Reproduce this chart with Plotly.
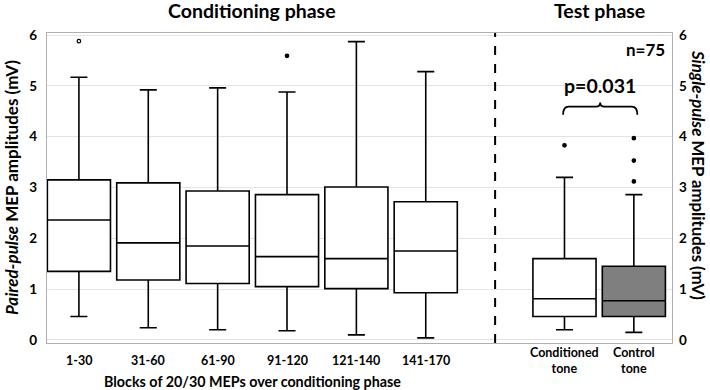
import plotly.graph_objects as go

# ---- data ----
categories = ["1-30", "31-60", "61-90", "91-120", "121-140", "141-170",
              "Conditioned<br>tone", "Control<br>tone"]
positions = [0, 1, 2, 3, 4, 5, 7, 8]
lower = [0.46, 0.24, 0.20, 0.18, 0.10, 0.04, 0.20, 0.15]
q1 = [1.35, 1.18, 1.11, 1.05, 1.01, 0.93, 0.46, 0.46]
median = [2.36, 1.91, 1.85, 1.64, 1.60, 1.75, 0.81, 0.77]
q3 = [3.15, 3.09, 2.93, 2.86, 3.01, 2.72, 1.60, 1.45]
upper = [5.17, 4.92, 4.96, 4.88, 5.87, 5.28, 3.20, 2.86]
fills = ["white"] * 7 + ["#7f7f7f"]

outlier_x = [0, 3, 7, 8, 8, 8]
outlier_y = [5.88, 5.59, 3.83, 3.97, 3.53, 3.12]
outlier_sym = ["circle-open", "circle", "circle", "circle", "circle", "circle"]

p_value_text = "p=0.031"
n_text = "n=75"

FONT = "Lato"

fig = go.Figure()
for i, pos in enumerate(positions):
    fig.add_trace(go.Box(
        x=[pos], q1=[q1[i]], median=[median[i]], q3=[q3[i]],
        lowerfence=[lower[i]], upperfence=[upper[i]],
        width=0.91, whiskerwidth=0.27,
        fillcolor=fills[i], line=dict(color="black", width=1.6),
        boxpoints=False, showlegend=False, hoverinfo="skip"))

fig.add_trace(go.Scatter(
    x=outlier_x, y=outlier_y, mode="markers",
    marker=dict(color="black", size=3.5, symbol=outlier_sym, line=dict(width=1.2, color="black")),
    showlegend=False, hoverinfo="skip"))

# separator between phases
fig.add_shape(type="line", x0=6, x1=6, y0=0, y1=1, xref="x", yref="paper",
              line=dict(color="black", width=2, dash="dash"))

# brace over test boxes
bx0, bx1 = 6.98, 8.05
by0, by1, bytip = 4.43, 4.59, 4.67
bm = (bx0 + bx1) / 2
path = (f"M {bx0},{by0} Q {bx0},{by1} {bx0+0.08},{by1} "
        f"L {bm-0.06},{by1} Q {bm},{by1} {bm},{bytip} "
        f"Q {bm},{by1} {bm+0.06},{by1} "
        f"L {bx1-0.08},{by1} Q {bx1},{by1} {bx1},{by0}")
fig.add_shape(type="path", path=path, xref="x", yref="y",
              line=dict(color="black", width=1.8))

ann = []
ann.append(dict(text=p_value_text, x=bm, y=5.0, xref="x", yref="y", showarrow=False,
                font=dict(family=FONT, size=19.5, color="black", weight="bold")))
ann.append(dict(text=n_text, x=1, y=1, xref="paper", yref="paper", xanchor="right",
                yanchor="top", xshift=-5, yshift=-4, showarrow=False,
                font=dict(family=FONT, size=17, color="black", weight="bold")))
ann.append(dict(text="Conditioning phase", x=2.5, y=1, xref="x", yref="paper",
                yanchor="middle", yshift=23, showarrow=False,
                font=dict(family=FONT, size=19.5, color="black", weight="bold")))
ann.append(dict(text="Test phase", x=7.5, y=1, xref="x", yref="paper",
                yanchor="middle", yshift=23, showarrow=False,
                font=dict(family=FONT, size=19.5, color="black", weight="bold")))
for c, pos in zip(categories, positions):
    ann.append(dict(text=c, x=pos, y=0, xref="x", yref="paper", yanchor="middle",
                    yshift=-17, showarrow=False,
                    font=dict(family=FONT, size=12.5, color="black", weight="bold")))
ann.append(dict(text="Blocks of 20/30 MEPs over conditioning phase", x=2.5, y=0,
                xref="x", yref="paper", yanchor="middle", yshift=-38, showarrow=False,
                font=dict(family=FONT, size=14.3, color="black", weight="bold")))
ann.append(dict(text="<i>Paired-pulse</i> MEP amplitudes (mV)", x=0, y=0.5,
                xref="paper", yref="paper", xanchor="center", yanchor="middle",
                xshift=-36, textangle=-90, showarrow=False,
                font=dict(family=FONT, size=17, color="black", weight="bold")))
ann.append(dict(text="<i>Single-pulse</i> MEP amplitudes (mV)", x=1, y=0.5,
                xref="paper", yref="paper", xanchor="center", yanchor="middle",
                xshift=27, yshift=13, textangle=90, showarrow=False,
                font=dict(family=FONT, size=16.8, color="black", weight="bold")))

fig.update_layout(
    width=710, height=390,
    margin=dict(l=47, r=38, t=33, b=47, autoexpand=False),
    plot_bgcolor="white", paper_bgcolor="white",
    annotations=ann,
    xaxis=dict(range=[-0.46, 8.55], showticklabels=False, showgrid=False,
               zeroline=False, showline=True, mirror=True, linecolor="#b0b0b0",
               linewidth=1.2, ticks=""),
    yaxis=dict(range=[-0.06, 6.04], tickvals=[0, 1, 2, 3, 4, 5, 6],
               showgrid=True, gridcolor="#e3e3e3", zeroline=False,
               showline=True, mirror=True, linecolor="#b0b0b0", linewidth=1.2,
               tickfont=dict(family=FONT, size=13.5, color="black", weight="bold"),
               ticks="", ticklabelstandoff=6),
    yaxis2=dict(range=[-0.06, 6.04], tickvals=[0, 1, 2, 3, 4, 5, 6],
                overlaying="y", side="right", showgrid=False, zeroline=False,
                tickfont=dict(family=FONT, size=13.5, color="black", weight="bold"),
                ticks="", ticklabelstandoff=6),
)
# dummy trace to show yaxis2
fig.add_trace(go.Scatter(x=[None], y=[None], yaxis="y2", showlegend=False, hoverinfo="skip"))

fig.write_html("out.html", config={"displayModeBar": False},
               post_script="document.body.style.margin='0';document.body.style.overflow='hidden';")
